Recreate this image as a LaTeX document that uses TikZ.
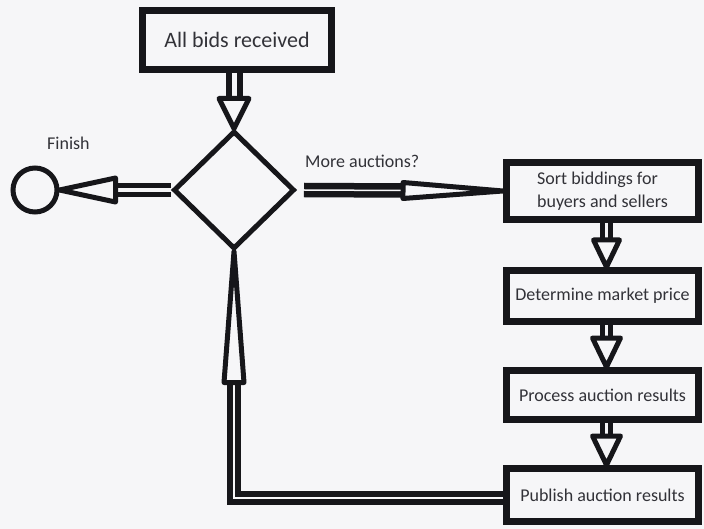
\documentclass[tikz,border=0pt]{standalone}
\usepackage{fontspec}
\setmainfont{Carlito}
\usetikzlibrary{calc,shapes.geometric}
\definecolor{ink}{RGB}{22,22,26}
\definecolor{txt}{RGB}{50,50,56}
\definecolor{paper}{RGB}{246,246,248}

\tikzset{
  every node/.style={text=txt},
  stepbox/.style={draw=ink, line width=7pt, fill=paper, inner sep=0pt,
                  font=\fontsize{18}{23}\selectfont},
  startbox/.style={stepbox, font=\fontsize{22}{26}\selectfont},
  decision/.style={diamond, draw=ink, line width=5pt, fill=paper, inner sep=0pt,
                   minimum width=121pt, minimum height=118pt},
  endpoint/.style={circle, draw=ink, line width=5pt, fill=paper, inner sep=0pt,
                   minimum size=44pt},
  caption/.style={font=\fontsize{18}{22}\selectfont, anchor=west, inner sep=0pt},
  % double-stroked shafts of the block arrows
  shaftwide/.style={draw=ink, line width=6pt, double=paper, double distance=5pt},
  shaftmid/.style={draw=ink, line width=5pt, double=paper, double distance=3.5pt},
  shaftthin/.style={draw=ink, line width=6.5pt, double=paper, double distance=1.5pt},
  head/.style={draw=ink, fill=paper, line width=5pt, line join=round},
}

% block arrow: shaft style, start, tip, head length, head half-width
\newcommand{\blockarrow}[5]{%
  \coordinate (hb) at ($(#3)!#4!(#2)$);
  \draw[#1] (#2) -- (hb);
  \draw[head] (#3) -- ($(hb)!#5!90:(#3)$) -- ($(hb)!#5!-90:(#3)$) -- cycle;
}

\begin{document}
\begin{tikzpicture}[x=1pt, y=-1pt]
  \fill[paper] (0,0) rectangle (704,529);
  \useasboundingbox (0,0) rectangle (704,529);

  % left column
  \node[startbox, minimum width=189pt, minimum height=59pt] (start) at (237,40) {All bids received};
  \node[decision] (dec) at (234,190) {};
  \node[endpoint] (fin) at (35,190) {};
  \node[caption] (finlbl) at (47,143) {Finish};
  \node[caption] (morelbl) at (305,161) {More auctions?};

  % right column
  \node[stepbox, minimum width=192pt, minimum height=57pt, align=left] (sort) at (602.5,191)
        {Sort biddings for\\buyers and sellers};
  \node[stepbox, minimum width=192pt, minimum height=51pt] (price) at (602.5,296) {Determine market price};
  \node[stepbox, minimum width=192pt, minimum height=49pt] (proc) at (602.5,395) {Process auction results};
  \node[stepbox, minimum width=192pt, minimum height=53pt] (pub) at (602.5,495) {Publish auction results};

  % arrows
  \coordinate (topsrc) at ($(start.south)+(-3,0)$);
  \blockarrow{shaftwide}{topsrc}{dec.north}{30pt}{15pt}
  \blockarrow{shaftmid}{dec.west}{fin.east}{56pt}{12pt}
  \coordinate (rsrc) at ($(dec.east)+(7,0)$);
  \blockarrow{shaftthin}{rsrc}{sort.west}{100pt}{8pt}

  \coordinate (s1) at ($(sort.south)+(4,0)$);
  \coordinate (t1) at ($(price.north)+(4,0)$);
  \blockarrow{shaftmid}{s1}{t1}{27pt}{13pt}
  \coordinate (s2) at ($(price.south)+(4,0)$);
  \coordinate (t2) at ($(proc.north)+(4,0)$);
  \blockarrow{shaftmid}{s2}{t2}{29pt}{14pt}
  \coordinate (s3) at ($(proc.south)+(4,0)$);
  \coordinate (t3) at ($(pub.north)+(4,0)$);
  \blockarrow{shaftmid}{s3}{t3}{29pt}{14pt}

  % loop back from the last step to the decision
  \coordinate (fbsrc) at ($(pub.west)+(0,3)$);
  \coordinate (fbc) at (dec.south |- fbsrc);
  \coordinate (fbhb) at ($(dec.south)!131pt!(fbc)$);
  \draw[shaftthin, line join=miter] (fbsrc) -- (fbc) -- (fbhb);
  \draw[head] (dec.south) -- ($(fbhb)!10pt!90:(dec.south)$) -- ($(fbhb)!10pt!-90:(dec.south)$) -- cycle;
\end{tikzpicture}
\end{document}
